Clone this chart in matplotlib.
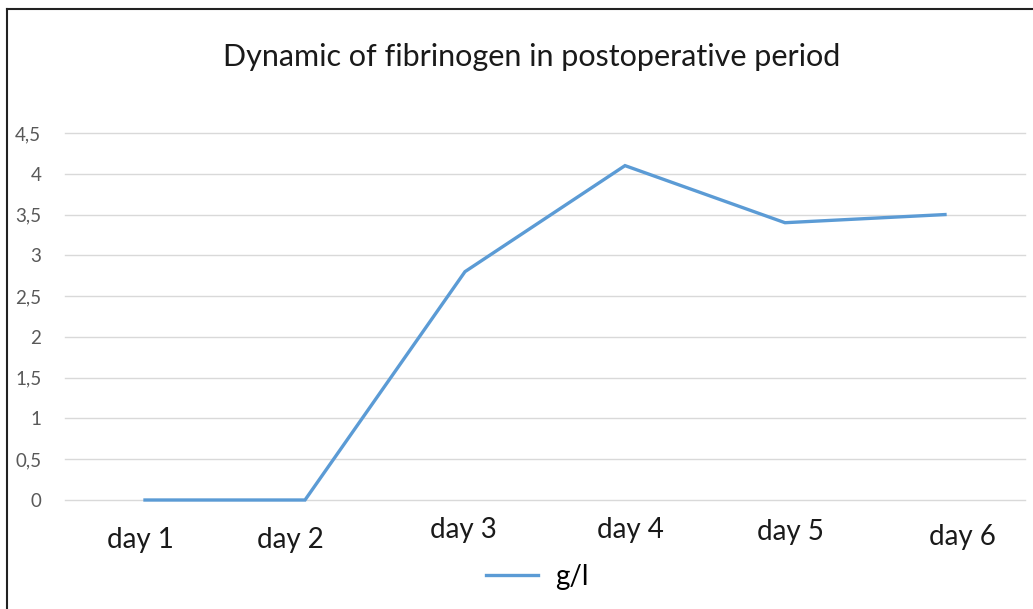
import matplotlib.pyplot as plt
from matplotlib.lines import Line2D
from matplotlib.transforms import ScaledTranslation

days = ["day 1", "day 2", "day 3", "day 4", "day 5", "day 6"]
fibrinogen = [0, 0, 2.8, 4.1, 3.4, 3.5]  # g/l
y_ticks = [0, 0.5, 1, 1.5, 2, 2.5, 3, 3.5, 4, 4.5]
y_labels = ["0", "0,5", "1", "1,5", "2", "2,5", "3", "3,5", "4", "4,5"]

# the source image has its category labels slightly shifted (pixels)
label_dx = [-5, -15, -2, 5, 5, 17]
label_dy = [-5, -5, 5, 5, 3, -2]

FONT = "Lato"
BLUE = "#5B9BD5"


def main():
    W, H = 1033, 609
    fig = plt.figure(figsize=(W / 100, H / 100), dpi=100)
    ax = fig.add_axes([65 / W, 109 / H, 960 / W, 367 / H])

    x = list(range(len(days)))
    ax.plot(x, fibrinogen, color=BLUE, lw=2.4, solid_joinstyle="miter", clip_on=False, zorder=3)

    ax.set_xlim(-0.5, len(days) - 0.5)
    ax.set_ylim(0, 4.5)
    ax.set_yticks(y_ticks)
    ax.set_yticklabels(y_labels, fontsize=13.5, color="#595959", family=FONT)
    ax.set_xticks(x)
    ax.set_xticklabels(days, fontsize=20, color="#1a1a1a", family=FONT)
    ax.tick_params(axis="both", length=0)
    ax.tick_params(axis="y", pad=17)
    ax.tick_params(axis="x", pad=16)
    for lab, dx, dy in zip(ax.get_xticklabels(), label_dx, label_dy):
        lab.set_transform(lab.get_transform()
                          + ScaledTranslation(dx / 100, dy / 100, fig.dpi_scale_trans))

    ax.grid(axis="y", color="#D9D9D9", lw=1)
    for gl in ax.get_ygridlines():
        gl.set_clip_on(False)
    ax.set_axisbelow(True)
    for s in ax.spines.values():
        s.set_visible(False)

    fig.text(532 / W, 1 - 57 / H, "Dynamic of fibrinogen in postoperative period",
             ha="center", va="center", fontsize=22, color="#1a1a1a", family=FONT)

    handle = Line2D([], [], color=BLUE, lw=2.4)
    fig.legend([handle], ["g/l"], loc="center", bbox_to_anchor=(537 / W, 1 - 577 / H),
               frameon=False, handlelength=1.9, handletextpad=0.6,
               prop={"family": FONT, "size": 20})

    # frame edges visible on the source image
    fig.add_artist(Line2D([7 / W, 7 / W], [0, 1 - 9 / H], color="#222222", lw=1.5))
    fig.add_artist(Line2D([7 / W, 1], [1 - 9 / H, 1 - 9 / H], color="#222222", lw=1.5))

    fig.savefig("out.png", dpi=100)


if __name__ == "__main__":
    main()
